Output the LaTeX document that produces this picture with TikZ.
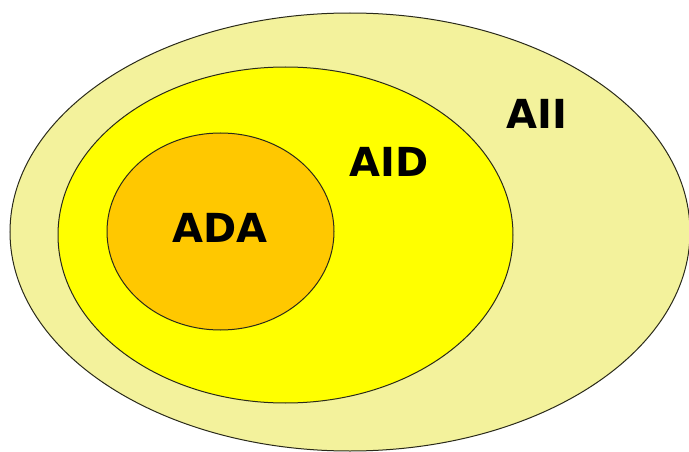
\documentclass[tikz,border=0pt]{standalone}
\usepackage{fontspec}
\setmainfont{DejaVu Sans}
\definecolor{outerY}{HTML}{F3F29C}
\definecolor{midY}{HTML}{FFFF00}
\definecolor{innerO}{HTML}{FFC800}
\definecolor{edge}{HTML}{2A2A1A}
\tikzset{
  setring/.style={draw=edge, line width=1pt},
  setlabel/.style={font=\fontsize{40}{48}\selectfont\bfseries, text=black, inner sep=0pt}
}
\begin{document}
\begin{tikzpicture}[x=1pt,y=-1pt]
\useasboundingbox (0,0) rectangle (689,452);
\fill[white] (0,0) rectangle (689,452);
\draw[setring, fill=outerY] (350,232) ellipse [x radius=340, y radius=219];
\draw[setring, fill=midY] (285.5,235) ellipse [x radius=227.5, y radius=168];
\draw[setring, fill=innerO] (220.5,231.5) ellipse [x radius=113.5, y radius=98.5];
\node[setlabel] (ada) at (220,228) {ADA};
\node[setlabel] (aid) at (389,162) {AID};
\node[setlabel] (aii) at (537,114) {AII};
\end{tikzpicture}
\end{document}
